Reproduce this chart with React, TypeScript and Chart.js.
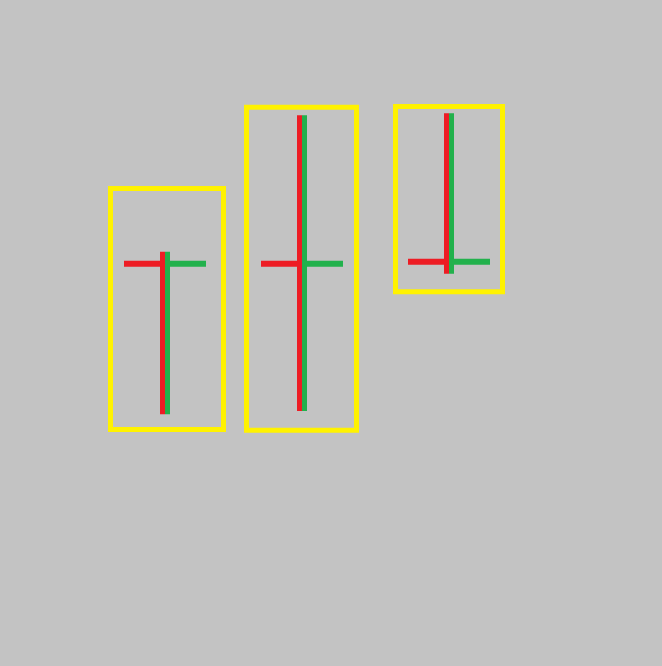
import React, { useEffect, useRef } from "react";
import { Chart, registerables } from "chart.js";

Chart.register(...registerables);

// Three doji candles (open = close), price units on a 0–100 scale
const candleX = [16.5, 30.2, 44.9];
const opens = [60.4, 60.4, 60.7];
const highs = [62.2, 82.7, 83.0];
const lows = [37.8, 38.3, 58.9];
const closes = [60.4, 60.4, 60.7];

// Highlight boxes around each candle
const boxLeft = [11.05, 24.65, 39.55];
const boxRight = [22.35, 35.65, 50.25];
const boxTop = [71.7, 83.9, 84.0];
const boxBottom = [35.5, 35.4, 56.2];

const TICK_LEN = 4.1;
const WICK_OFFSET = 0.25;

const GRAY = "#c3c3c3";
const RED = "#ed1c24";
const GREEN = "#22b14c";
const YELLOW = "#fff200";

type P = { x: number; y: number | null };

function buildBoxes(): P[] {
  const pts: P[] = [];
  candleX.forEach((_, i) => {
    const mid = (boxLeft[i] + boxRight[i]) / 2;
    pts.push({ x: mid, y: boxTop[i] });
    pts.push({ x: boxRight[i], y: boxTop[i] });
    pts.push({ x: boxRight[i], y: boxBottom[i] });
    pts.push({ x: boxLeft[i], y: boxBottom[i] });
    pts.push({ x: boxLeft[i], y: boxTop[i] });
    pts.push({ x: mid, y: boxTop[i] });
    pts.push({ x: mid, y: null });
  });
  return pts;
}

function buildWicks(offset: number): P[] {
  const pts: P[] = [];
  candleX.forEach((cx, i) => {
    pts.push({ x: cx + offset, y: highs[i] });
    pts.push({ x: cx + offset, y: lows[i] });
    pts.push({ x: cx + offset, y: null });
  });
  return pts;
}

function buildTicks(side: "open" | "close"): P[] {
  const pts: P[] = [];
  candleX.forEach((cx, i) => {
    const v = side === "open" ? opens[i] : closes[i];
    if (side === "open") {
      pts.push({ x: cx - TICK_LEN, y: v });
      pts.push({ x: cx, y: v });
    } else {
      pts.push({ x: cx, y: v });
      pts.push({ x: cx + TICK_LEN, y: v });
    }
    pts.push({ x: cx, y: null });
  });
  return pts;
}

export default function App() {
  const ref = useRef<HTMLCanvasElement | null>(null);

  useEffect(() => {
    document.body.style.margin = "0";
    document.body.style.background = GRAY;
    if (!ref.current) return;
    const common = {
      type: "line" as const,
      pointRadius: 0,
      pointHoverRadius: 0,
      fill: false,
      spanGaps: false,
      tension: 0,
      borderCapStyle: "butt" as const,
      borderJoinStyle: "miter" as const,
    };
    const chart = new Chart(ref.current, {
      type: "line",
      data: {
        datasets: [
          { ...common, label: "box", data: buildBoxes() as any, borderColor: YELLOW, borderWidth: 5 },
          { ...common, label: "open", data: buildTicks("open") as any, borderColor: RED, borderWidth: 6 },
          { ...common, label: "close", data: buildTicks("close") as any, borderColor: GREEN, borderWidth: 6 },
          { ...common, label: "wickR", data: buildWicks(-WICK_OFFSET) as any, borderColor: RED, borderWidth: 5 },
          { ...common, label: "wickG", data: buildWicks(WICK_OFFSET) as any, borderColor: GREEN, borderWidth: 5 },
        ],
      },
      options: {
        animation: false,
        responsive: false,
        layout: { padding: 0 },
        plugins: { legend: { display: false }, tooltip: { enabled: false } },
        scales: {
          x: { type: "linear", min: 0, max: 66.2, display: false },
          y: { type: "linear", min: 0, max: 100, display: false },
        },
      },
    });
    return () => chart.destroy();
  }, []);

  return (
    <div style={{ position: "fixed", left: 0, top: 0, width: 662, height: 666, background: GRAY }}>
      <canvas ref={ref} width={662} height={666} />
    </div>
  );
}
